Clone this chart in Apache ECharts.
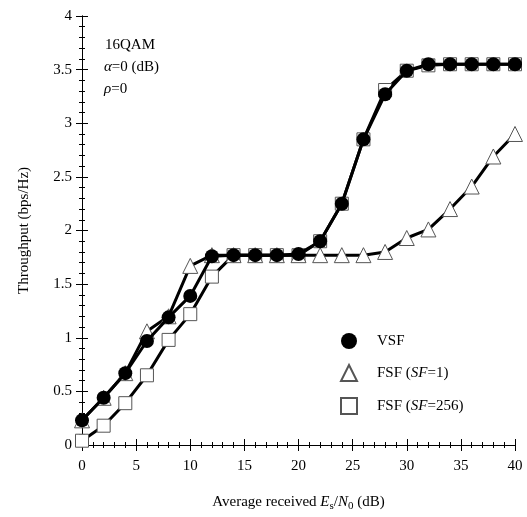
<!DOCTYPE html>
<html>
<head>
<meta charset="utf-8">
<script src="https://cdn.jsdelivr.net/npm/echarts@6/dist/echarts.min.js"></script>
<style>
  html, body { margin: 0; padding: 0; background: #fff; }
  #chart { width: 527px; height: 517px; }
</style>
</head>
<body>
<div id="chart"></div>
<script>
const snr = [0, 2, 4, 6, 8, 10, 12, 14, 16, 18, 20, 22, 24, 26, 28, 30, 32, 34, 36, 38, 40];
const vsf = [0.23, 0.44, 0.67, 0.97, 1.19, 1.39, 1.76, 1.77, 1.77, 1.77, 1.78, 1.9, 2.25, 2.85, 3.27, 3.49, 3.55, 3.55, 3.55, 3.55, 3.55];
const fsf1 = [0.23, 0.44, 0.67, 1.06, 1.2, 1.67, 1.77, 1.77, 1.77, 1.77, 1.77, 1.77, 1.77, 1.77, 1.8, 1.93, 2.01, 2.2, 2.41, 2.69, 2.9];
const fsf256 = [0.04, 0.18, 0.39, 0.65, 0.98, 1.22, 1.57, 1.77, 1.77, 1.77, 1.77, 1.9, 2.25, 2.85, 3.31, 3.49, 3.54, 3.55, 3.55, 3.55, 3.55];

const font = "Liberation Serif";
const chart = echarts.init(document.getElementById("chart"));

const pairs = (ys) => snr.map((x, i) => [x, ys[i]]);

const axisCommon = {
  axisLine: { lineStyle: { color: "#000", width: 1 } },
  axisTick: { inside: true, length: 6, lineStyle: { color: "#000" } },
  minorTick: { show: true, splitNumber: 5, length: 3, lineStyle: { color: "#000" } },
  splitLine: { show: false },
};

const option = {
  animation: false,
  backgroundColor: "#fff",
  grid: { left: 82, right: 12, top: 16, bottom: 71 },
  textStyle: { fontFamily: font },
  xAxis: [
    {
      ...axisCommon,
      type: "value", min: 0, max: 40, interval: 5,
      axisLabel: { color: "#000", fontSize: 15, fontFamily: font, margin: 14 },
      name: "Average received {i|E}{s|s}{n|/}{i|N}{s|0}{n| (dB)}",
      nameLocation: "middle",
      nameGap: 48,
      nameTextStyle: {
        color: "#000", fontSize: 15, fontFamily: font,
        rich: {
          i: { fontStyle: "italic", fontSize: 15, fontFamily: font, color: "#000" },
          s: { fontSize: 11, fontFamily: font, color: "#000", verticalAlign: "bottom", padding: [8, 0, 0, 0] },
          n: { fontSize: 15, fontFamily: font, color: "#000" },
        },
      },
    },
    {
      ...axisCommon,
      type: "value", min: 0, max: 40, interval: 5, position: "top",
      axisLabel: { show: false },
    },
  ],
  yAxis: [
    {
      ...axisCommon,
      type: "value", min: 0, max: 4, interval: 0.5,
      axisLabel: { color: "#000", fontSize: 15, fontFamily: font, margin: 10 },
      name: "Throughput (bps/Hz)",
      nameLocation: "middle",
      nameGap: 50,
      nameTextStyle: { color: "#000", fontSize: 15, fontFamily: font },
    },
    {
      ...axisCommon,
      type: "value", min: 0, max: 4, interval: 0.5, position: "right",
      axisLabel: { show: false },
    },
  ],
  legend: {
    orient: "vertical",
    left: 335,
    top: 328,
    itemGap: 15,
    itemWidth: 16,
    itemHeight: 16,
    textStyle: {
      color: "#000", fontSize: 15, fontFamily: font,
      rich: {
        t: { fontSize: 15, fontFamily: font, color: "#000" },
        i: { fontSize: 15, fontFamily: font, color: "#000", fontStyle: "italic" },
      },
    },
    formatter: (name) => {
      if (name === "VSF") return "{t|    VSF}";
      if (name === "FSF1") return "{t|    FSF (}{i|SF}{t|=1)}";
      return "{t|    FSF (}{i|SF}{t|=256)}";
    },
    data: [
      { name: "VSF", icon: "circle" },
      { name: "FSF1", icon: "triangle" },
      { name: "FSF256", icon: "rect" },
    ],
  },
  graphic: [
    { type: "text", left: 105, top: 38, style: { text: "16QAM", font: "15px " + font, fill: "#000" } },
    {
      type: "text", left: 104, top: 60,
      style: {
        text: "{i|α}{n|=0 (dB)}", fill: "#000",
        rich: {
          i: { font: "italic 15px " + font, fill: "#000" },
          n: { font: "15px " + font, fill: "#000" },
        },
      },
    },
    {
      type: "text", left: 104, top: 82,
      style: {
        text: "{i|ρ}{n|=0}", fill: "#000",
        rich: {
          i: { font: "italic 15px " + font, fill: "#000" },
          n: { font: "15px " + font, fill: "#000" },
        },
      },
    },
  ],
  series: [
    {
      name: "FSF256", type: "line", data: pairs(fsf256),
      symbol: "rect", symbolSize: 13,
      lineStyle: { color: "#000", width: 3 },
      itemStyle: { color: "#fff", borderColor: "#555", borderWidth: 1 },
      z: 2,
    },
    {
      name: "FSF1", type: "line", data: pairs(fsf1),
      symbol: "triangle", symbolSize: 15,
      lineStyle: { color: "#000", width: 3 },
      itemStyle: { color: "#fff", borderColor: "#555", borderWidth: 1 },
      z: 3,
    },
    {
      name: "VSF", type: "line", data: pairs(vsf),
      symbol: "circle", symbolSize: 14,
      lineStyle: { color: "#000", width: 3 },
      itemStyle: { color: "#000", borderColor: "#000", borderWidth: 0 },
      z: 4,
    },
  ],
};

chart.setOption(option);
</script>
</body>
</html>
